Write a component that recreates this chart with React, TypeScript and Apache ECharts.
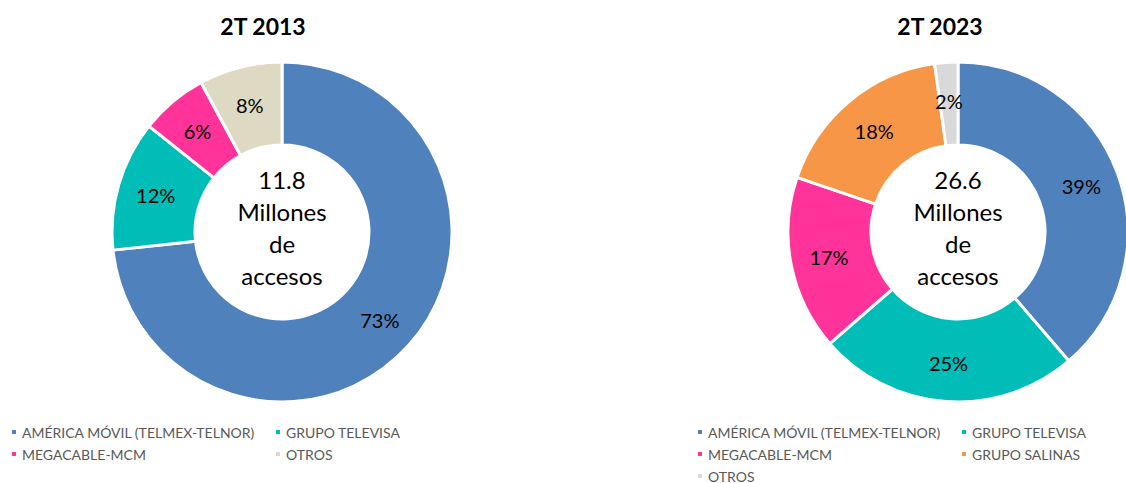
import React, { useEffect, useRef } from "react";
import * as echarts from "echarts";

const names2013 = ["AMÉRICA MÓVIL (TELMEX-TELNOR)", "GRUPO TELEVISA", "MEGACABLE-MCM", "OTROS"];
const values2013 = [73.3, 12.4, 6.4, 7.9];
const colors2013 = ["#4F81BD", "#00BDB8", "#FF3399", "#DDD9C3"];

const names2023 = ["AMÉRICA MÓVIL (TELMEX-TELNOR)", "GRUPO TELEVISA", "MEGACABLE-MCM", "GRUPO SALINAS", "OTROS"];
const values2023 = [38.7, 24.9, 16.6, 17.6, 2.2];
const colors2023 = ["#4F81BD", "#00BDB8", "#FF3399", "#F79646", "#D9D9D9"];

const titles = ["2T 2013", "2T 2023"];
const totals = ["11.8", "26.6"];

const FONT = "Lato, 'Open Sans', sans-serif";

function pie(names: string[], values: number[], colors: string[], cx: number) {
  return {
    type: "pie",
    center: [cx, 232],
    radius: [87, 170],
    startAngle: 90,
    clockwise: true,
    avoidLabelOverlap: false,
    itemStyle: { borderColor: "#fff", borderWidth: 3 },
    label: {
      show: true,
      position: "inside",
      color: "#000",
      fontSize: 20,
      fontFamily: FONT,
      formatter: (p: any) => Math.round(p.value) + "%",
    },
    labelLine: { show: false },
    emphasis: { disabled: true },
    data: names.map((n, i) => ({ name: n, value: values[i], itemStyle: { color: colors[i] } })),
  };
}

function legend(name: string, color: string, left: number, top: number) {
  return {
    orient: "horizontal",
    left,
    top,
    itemWidth: 6,
    itemHeight: 6,
    itemGap: 8,
    icon: "rect",
    selectedMode: false,
    padding: 0,
    textStyle: { color: "#595959", fontSize: 14, fontFamily: FONT },
    data: [{ name, itemStyle: { color } }],
  };
}

export default function App() {
  const ref = useRef<HTMLDivElement>(null);
  useEffect(() => {
    document.body.style.margin = "0";
    const chart = echarts.init(ref.current!, null, { renderer: "svg" });
    const centerText = (x: number, t: string) => ({
      type: "text",
      x,
      y: 227,
      style: {
        text: `${t}\nMillones\nde\naccesos`,
        fontSize: 24,
        lineHeight: 32,
        fontFamily: FONT,
        fill: "#000",
        textAlign: "center",
        textVerticalAlign: "middle",
      },
    });
    const titleText = (x: number, t: string) => ({
      type: "text",
      x,
      y: 26,
      style: {
        text: t,
        fontSize: 23,
        fontWeight: "bold",
        fontFamily: FONT,
        fill: "#000",
        textAlign: "center",
        textVerticalAlign: "middle",
      },
    });
    const rows = [425, 447, 469];
    chart.setOption({
      animation: false,
      legend: [
        legend(names2013[0], colors2013[0], 10, rows[0]),
        legend(names2013[2], colors2013[2], 10, rows[1]),
        legend(names2013[1], colors2013[1], 274, rows[0]),
        legend(names2013[3], colors2013[3], 274, rows[1]),
        legend(names2023[0], colors2023[0], 696, rows[0]),
        legend(names2023[2], colors2023[2], 696, rows[1]),
        legend(names2023[4], colors2023[4], 696, rows[2]),
        legend(names2023[1], colors2023[1], 960, rows[0]),
        legend(names2023[3], colors2023[3], 960, rows[1]),
      ],
      series: [pie(names2013, values2013, colors2013, 282), pie(names2023, values2023, colors2023, 958)],
      graphic: [
        titleText(263, titles[0]),
        titleText(940, titles[1]),
        centerText(282, totals[0]),
        centerText(958, totals[1]),
      ],
    });
    return () => chart.dispose();
  }, []);
  return <div ref={ref} style={{ width: 1126, height: 483 }} />;
}
